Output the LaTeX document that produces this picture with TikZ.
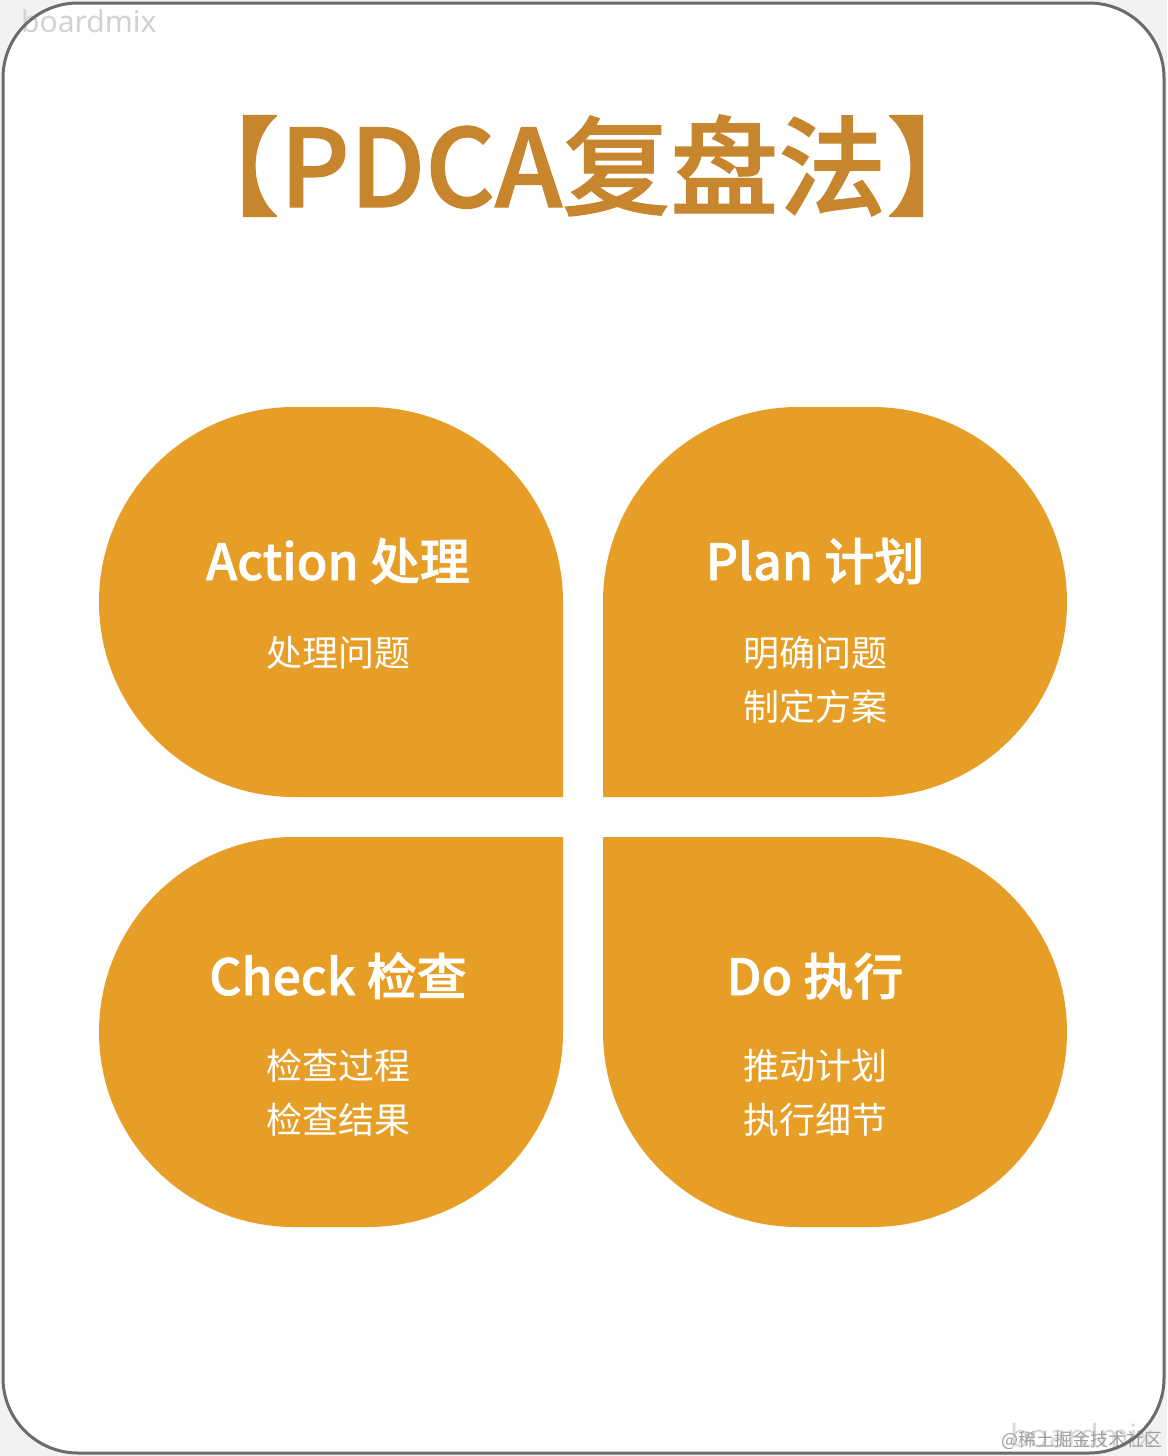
\documentclass[tikz,border=0pt]{standalone}
\usepackage{fontspec}
\newfontfamily\cjk{Noto Sans CJK SC}
\newfontfamily\cjkm{Noto Sans CJK SC Medium}[FakeBold=1.2]
\newfontfamily\wmfont{Noto Sans}
\definecolor{petalc}{HTML}{E69E26}
\definecolor{titlec}{HTML}{C7852D}
\definecolor{framec}{HTML}{6B6B6B}
\definecolor{outc}{HTML}{F2F2F2}
\newcommand\petalshape{%
  \fill[petalc] (563,797) -- (294,797) .. controls (186.3,797) and (99,709.7) .. (99,602)
    .. controls (99,494.3) and (186.3,407) .. (294,407) -- (368,407)
    .. controls (475.7,407) and (563,494.3) .. (563,602) -- cycle;}
\tikzset{
  head/.style={text=white, font=\cjkm\fontsize{50}{60}\selectfont, anchor=base, inner sep=0pt},
  sub/.style={text=white, font=\cjk\fontsize{36}{44}\selectfont, anchor=base, inner sep=0pt},
}
\begin{document}
\begin{tikzpicture}[x=1pt,y=-1pt]
\useasboundingbox (0,0) rectangle (1167,1456);
\fill[outc] (0,0) rectangle (1167,1456);
\fill[white] [rounded corners=75pt] (3,3) rectangle (1164,1453);
% watermarks
\node[anchor=base west, inner sep=0pt, text=gray!35, font=\wmfont\fontsize{30}{36}\selectfont] (wm1) at (21,32) {boardmix};
\node[anchor=base west, inner sep=0pt, text=gray!30, font=\wmfont\fontsize{32}{38}\selectfont] (wm2) at (1010,1447) {boardmix};
\node[anchor=base west, inner sep=0pt, text=gray!75, font=\cjk\fontsize{18}{22}\selectfont] (wm3) at (1001,1446) {@稀土掘金技术社区};
\draw[framec, line width=3pt] [rounded corners=75pt] (3,3) rectangle (1164,1453);
% title
\node[anchor=base, inner sep=0pt, text=titlec, font=\cjkm\fontsize{108}{120}\selectfont] (title) at (583,207) {【PDCA复盘法】};
% petals
\petalshape
\begin{scope}[shift={(1166,0)}, xscale=-1]\petalshape\end{scope}
\begin{scope}[shift={(0,1634)}, yscale=-1]\petalshape\end{scope}
\begin{scope}[shift={(1166,1634)}, xscale=-1, yscale=-1]\petalshape\end{scope}
% texts
\node[head] (ah) at (338,580) {Action 处理};
\node[sub] (a1) at (338,666) {处理问题};
\node[head] (ph) at (815,580) {Plan 计划};
\node[sub] (p1) at (815,666) {明确问题};
\node[sub] (p2) at (815,720) {制定方案};
\node[head] (ch) at (338,995) {Check 检查};
\node[sub] (c1) at (338,1079) {检查过程};
\node[sub] (c2) at (338,1133) {检查结果};
\node[head] (dh) at (815,995) {Do 执行};
\node[sub] (d1) at (815,1079) {推动计划};
\node[sub] (d2) at (815,1133) {执行细节};
\end{tikzpicture}
\end{document}
